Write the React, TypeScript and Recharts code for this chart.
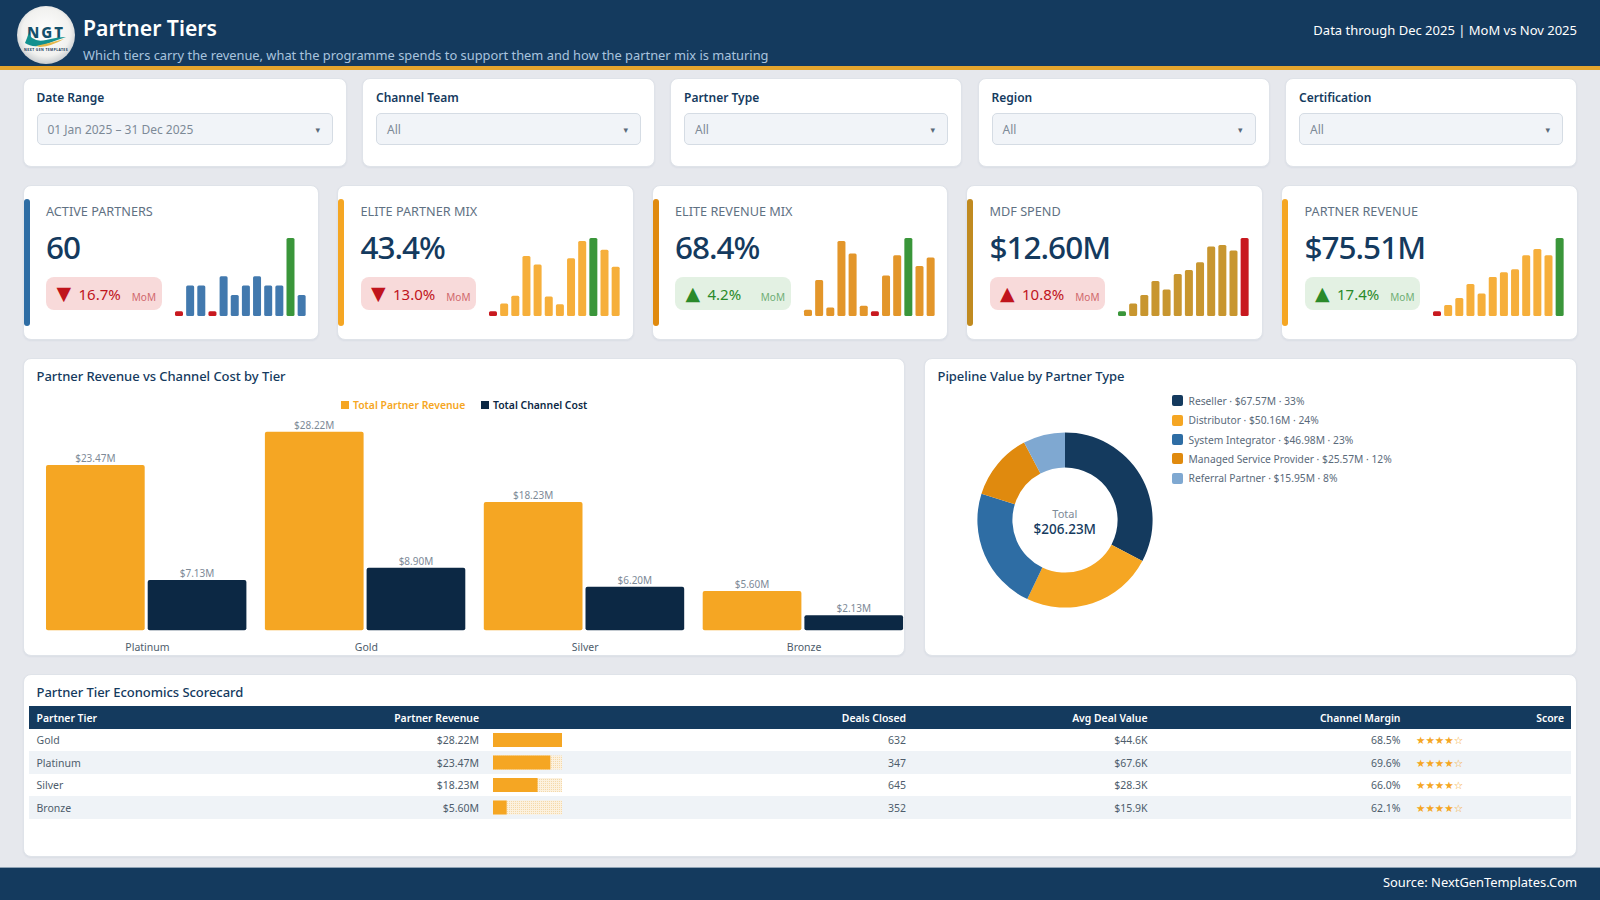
import React from "react";
import {
  BarChart,
  Bar,
  XAxis,
  YAxis,
  Cell,
  LabelList,
  PieChart,
  Pie,
} from "recharts";

const NAVY = "#143A5E";
const ORANGE = "#F5A623";
const GREY = "#7D8A97";
const FONT = "'Noto Sans', sans-serif";

// --- Filters ---
const filterLabels = ["Date Range", "Channel Team", "Partner Type", "Region", "Certification"];
const filterValues = ["01 Jan 2025 – 31 Dec 2025", "All", "All", "All", "All"];
const filterBoxes = [
  [23.5, 322.5],
  [363, 291],
  [671, 290],
  [978.5, 290],
  [1286, 290],
];

// --- KPI cards ---
const kpiTitles = ["ACTIVE PARTNERS", "ELITE PARTNER MIX", "ELITE REVENUE MIX", "MDF SPEND", "PARTNER REVENUE"];
const kpiValues = ["60", "43.4%", "68.4%", "$12.60M", "$75.51M"];
const kpiDeltas = ["16.7%", "13.0%", "4.2%", "10.8%", "17.4%"];
const kpiArrows = ["▼", "▼", "▲", "▲", "▲"];
const kpiGood = [false, false, true, false, true];
const kpiAccents = ["#2E6DA4", "#F5A623", "#E08A0E", "#C08A20", "#F5A623"];
const kpiBarFills = ["#4279AE", "#F6AF3B", "#E3962A", "#C8962F", "#F6AF3B"];
const kpiLefts = [23.5, 338, 652.5, 967, 1282];

// monthly bars, read as % of each card's tallest bar
const activePartnersBars = [6, 39, 39, 6, 51, 27, 39, 51, 39, 39, 100, 27];
const elitePartnerBars = [6, 16, 26, 77, 66, 25, 15, 74, 96, 100, 85, 63];
const eliteRevenueBars = [8, 46, 11, 96, 80, 13, 6, 52, 78, 100, 64, 75];
const mdfSpendBars = [6, 16, 27, 45, 34, 54, 59, 69, 89, 91, 84, 100];
const partnerRevenueBars = [6, 14, 23, 41, 29, 50, 56, 60, 78, 86, 78, 100];
const kpiBars = [activePartnersBars, elitePartnerBars, eliteRevenueBars, mdfSpendBars, partnerRevenueBars];
const months = ["Jan", "Feb", "Mar", "Apr", "May", "Jun", "Jul", "Aug", "Sep", "Oct", "Nov", "Dec"];

// --- Revenue vs cost ---
const barTiers = ["Platinum", "Gold", "Silver", "Bronze"];
const tierRevenue = [23.47, 28.22, 18.23, 5.6];
const tierCost = [7.13, 8.9, 6.2, 2.13];

// --- Pipeline donut ---
const pipelineTypes = ["Reseller", "Distributor", "System Integrator", "Managed Service Provider", "Referral Partner"];
const pipelineValues = [67.57, 50.16, 46.98, 25.57, 15.95];
const pipelinePct = ["33%", "24%", "23%", "12%", "8%"];
const pipelineColors = ["#143A5E", "#F5A623", "#2E6DA4", "#E08A0E", "#7FA8D1"];

// --- Scorecard ---
const scoreTiers = ["Gold", "Platinum", "Silver", "Bronze"];
const scoreRevenue = [28.22, 23.47, 18.23, 5.6];
const scoreDeals = [632, 347, 645, 352];
const scoreAvgDeal = ["$44.6K", "$67.6K", "$28.3K", "$15.9K"];
const scoreMargin = ["68.5%", "69.6%", "66.0%", "62.1%"];
const scoreStars = ["★★★★☆", "★★★★☆", "★★★★☆", "★★★★☆"];

const money = (v: number) => `$${v.toFixed(2)}M`;

// absolutely placed text, vertically centred on cy
function T({ x, right, cy, size, weight = 400, color = NAVY, font, spacing, children }: any) {
  const style: React.CSSProperties = {
    position: "absolute",
    top: cy - 15,
    height: 30,
    lineHeight: "30px",
    fontSize: size,
    fontWeight: weight,
    color,
    letterSpacing: spacing,
    whiteSpace: "nowrap",
    fontFamily: font || FONT,
  };
  if (right !== undefined) style.right = 1600 - right;
  else style.left = x;
  return <div style={style}>{children}</div>;
}

function Card({ left, top, width, height }: any) {
  return (
    <div
      style={{
        position: "absolute",
        left: left - 1,
        top: top - 1,
        width: width + 2,
        height: height + 2,
        boxSizing: "border-box",
        background: "#fff",
        border: "1px solid #DFE3E9",
        borderRadius: 8,
        boxShadow: "0 1px 2px rgba(20,58,94,0.06)",
      }}
    />
  );
}

function Logo() {
  return (
    <svg width={60} height={60} style={{ position: "absolute", left: 16, top: 5 }} viewBox="0 0 60 60">
      <defs>
        <radialGradient id="logoBg" cx="50%" cy="45%" r="55%">
          <stop offset="0%" stopColor="#FFFFFF" />
          <stop offset="75%" stopColor="#F1F1EF" />
          <stop offset="100%" stopColor="#C9CDD0" />
        </radialGradient>
      </defs>
      <circle cx={30} cy={30} r={29} fill="url(#logoBg)" />
      <text x={30} y={33} textAnchor="middle" fontSize={15} fontWeight={800} letterSpacing={2} fontFamily={FONT} fill="#14506B">
        NGT
      </text>
      <path d="M9 38 Q14 26 12 27 Q16 38 30 35 Q42 32 50 32 Q38 36 28 40 Q16 43 9 38Z" fill="#12908F" />
      <path d="M20 41 Q34 38 48 34 Q36 41 24 42Z" fill="#E5B74A" />
      <text x={30} y={46} textAnchor="middle" fontSize={3.4} fontWeight={700} letterSpacing={0.4} fontFamily={FONT} fill="#14385A">
        NEXT GEN TEMPLATES
      </text>
    </svg>
  );
}

function KpiCard({ i }: { i: number }) {
  const left = kpiLefts[i];
  const values = kpiBars[i];
  const data = values.map((v, k) => ({ month: months[k], v }));
  const max = Math.max(...values);
  const min = Math.min(...values);
  // MDF is a cost, so its peak is the red one
  const highColor = i === 3 ? "#C8191F" : "#3A963A";
  const lowColor = i === 3 ? "#3A963A" : "#C8191F";
  const good = kpiGood[i];
  const deltaColor = good ? "#2A8A2A" : "#C0141C";
  return (
    <>
      <Card left={left} top={186} width={294.5} height={153} />
      <div style={{ position: "absolute", left, top: 199, width: 6, height: 127, borderRadius: 3, background: kpiAccents[i] }} />
      <T x={left + 22.5} cy={210.5} size={12.7} color="#5F7183">{kpiTitles[i]}</T>
      <T x={left + 22.5} cy={247} size={31.5} weight={500} spacing={-1}>{kpiValues[i]}</T>
      <div
        style={{
          position: "absolute",
          left: left + 22.5,
          top: 277,
          width: 115.5,
          height: 33,
          borderRadius: 8,
          background: good ? "#E3F1E3" : "#F8DADA",
        }}
      />
      <T x={left + 33} cy={292.5} size={19} color={deltaColor} font="'DejaVu Sans', sans-serif">{kpiArrows[i]}</T>
      <T x={left + 55} cy={294} size={15} color={deltaColor}>{kpiDeltas[i]}</T>
      <T right={left + 132.5} cy={297} size={10} color={good ? "#6FAE74" : "#D0686C"}>MoM</T>
      <div style={{ position: "absolute", left: left + 149.2, top: 238.3 }}>
        <BarChart width={133.8} height={78} data={data} margin={{ top: 0, right: 0, bottom: 0, left: 0 }}>
          <XAxis dataKey="month" hide />
          <YAxis hide domain={[0, 100]} />
          <Bar dataKey="v" barSize={8} radius={1.5} isAnimationActive={false}>
            {values.map((v, k) => (
              <Cell key={k} fill={v === max ? highColor : v === min ? lowColor : kpiBarFills[i]} />
            ))}
          </Bar>
        </BarChart>
      </div>
    </>
  );
}

export default function App() {
  const tierData = barTiers.map((name, i) => ({ name, revenue: tierRevenue[i], cost: tierCost[i] }));
  const pipelineData = pipelineTypes.map((name, i) => ({ name, value: pipelineValues[i] }));
  const scoreData = scoreTiers.map((name, i) => ({ name, revenue: scoreRevenue[i] }));

  return (
    <div
      style={{
        position: "absolute",
        left: 0,
        top: 0,
        width: 1600,
        height: 900,
        overflow: "hidden",
        background: "#E6E8ED",
        fontFamily: FONT,
      }}
    >
      {/* Header */}
      <div style={{ position: "absolute", left: 0, top: 0, width: 1600, height: 66, background: NAVY }} />
      <div style={{ position: "absolute", left: 0, top: 66, width: 1600, height: 4, background: "#E5A52D" }} />
      <Logo />
      <T x={83} cy={27.5} size={21.2} weight={600} color="#fff">Partner Tiers</T>
      <T x={83} cy={54.5} size={12.85} color="#A9C4DE">
        Which tiers carry the revenue, what the programme spends to support them and how the partner mix is maturing
      </T>
      <T right={1577} cy={30} size={13} color="#fff">Data through Dec 2025 | MoM vs Nov 2025</T>

      {/* Filters */}
      {filterLabels.map((label, i) => {
        const [left, width] = filterBoxes[i];
        return (
          <React.Fragment key={label}>
            <Card left={left} top={79} width={width} height={87} />
            <T x={left + 13} cy={98} size={12} weight={600}>{label}</T>
            <div
              style={{
                position: "absolute",
                left: left + 13,
                top: 113,
                width: width - 26,
                height: 32,
                boxSizing: "border-box",
                background: "#F1F4F8",
                border: "1.5px solid #D5DCE4",
                borderRadius: 5,
              }}
            />
            <T x={left + 24} cy={129.5} size={12} color={GREY}>{filterValues[i]}</T>
            <T right={left + width - 26} cy={129.5} size={9} color="#5A6A7A" font="'DejaVu Sans', sans-serif">▾</T>
          </React.Fragment>
        );
      })}

      {/* KPI cards */}
      {kpiTitles.map((t, i) => (
        <KpiCard key={t} i={i} />
      ))}

      {/* Revenue vs cost */}
      <Card left={24} top={358.5} width={880} height={296.5} />
      <T x={36.5} cy={376} size={13} weight={500} spacing={-0.05}>Partner Revenue vs Channel Cost by Tier</T>
      <div style={{ position: "absolute", left: 341, top: 401, width: 8, height: 8, background: ORANGE }} />
      <T x={353} cy={405} size={10.4} weight={600} color={ORANGE}>Total Partner Revenue</T>
      <div style={{ position: "absolute", left: 481, top: 401, width: 8, height: 8, background: "#0C2844" }} />
      <T x={493} cy={405} size={10.4} weight={600} color="#0C2844">Total Channel Cost</T>
      <div style={{ position: "absolute", left: 36.7, top: 360 }}>
        <BarChart
          width={875.6}
          height={295}
          data={tierData}
          margin={{ top: 0, right: 0, bottom: 0, left: 0 }}
          barGap={3}
          style={{ overflow: "visible" }}
        >
          <XAxis
            dataKey="name"
            height={24.7}
            axisLine={false}
            tickLine={false}
            tickMargin={7}
            dx={1}
            tick={{ fill: "#4E5D6C", fontSize: 10.5 }}
          />
          <YAxis hide domain={[0, 38.4]} />
          <Bar dataKey="revenue" fill={ORANGE} barSize={98.7} radius={2} isAnimationActive={false}>
            <LabelList dataKey="revenue" position="top" offset={3} formatter={money} fill={GREY} fontSize={10} />
          </Bar>
          <Bar dataKey="cost" fill="#0C2844" barSize={98.7} radius={2} isAnimationActive={false}>
            <LabelList dataKey="cost" position="top" offset={3} formatter={money} fill={GREY} fontSize={10} />
          </Bar>
        </BarChart>
      </div>

      {/* Pipeline donut */}
      <Card left={924.5} top={358.5} width={651.5} height={296.5} />
      <T x={937.5} cy={376} size={13} weight={500} spacing={-0.05}>Pipeline Value by Partner Type</T>
      <div style={{ position: "absolute", left: 954.8, top: 410.3 }}>
        <PieChart width={220} height={220} margin={{ top: 0, right: 0, bottom: 0, left: 0 }}>
          <Pie
            data={pipelineData}
            dataKey="value"
            nameKey="name"
            cx={110}
            cy={110}
            innerRadius={52.6}
            outerRadius={87.6}
            startAngle={90}
            endAngle={-270}
            stroke="none"
            isAnimationActive={false}
          >
            {pipelineData.map((d, i) => (
              <Cell key={d.name} fill={pipelineColors[i]} />
            ))}
          </Pie>
        </PieChart>
      </div>
      <div style={{ position: "absolute", left: 1004.8, width: 120, top: 499, textAlign: "center", fontSize: 11, lineHeight: "30px", color: GREY }}>Total</div>
      <div style={{ position: "absolute", left: 1004.8, width: 120, top: 514, textAlign: "center", fontSize: 13.5, fontWeight: 500, lineHeight: "30px", color: NAVY }}>$206.23M</div>
      {pipelineTypes.map((name, i) => (
        <React.Fragment key={name}>
          <div style={{ position: "absolute", left: 1172.4, top: 395.2 + i * 19.4, width: 11, height: 11, borderRadius: 2, background: pipelineColors[i] }} />
          <T x={1188.5} cy={400.7 + i * 19.4} size={10.25} color="#5A6A7A">
            {`${name} · ${money(pipelineValues[i])} · ${pipelinePct[i]}`}
          </T>
        </React.Fragment>
      ))}

      {/* Scorecard */}
      <Card left={24} top={674.5} width={1552} height={181.5} />
      <T x={36.5} cy={692} size={13} weight={500} spacing={-0.05}>Partner Tier Economics Scorecard</T>
      <div style={{ position: "absolute", left: 29, top: 706, width: 1542, height: 22.7, background: NAVY }} />
      <T x={36.5} cy={717.5} size={10.4} weight={600} color="#fff">Partner Tier</T>
      <T right={479} cy={717.5} size={10.4} weight={600} color="#fff">Partner Revenue</T>
      <T right={906} cy={717.5} size={10.4} weight={600} color="#fff">Deals Closed</T>
      <T right={1147.5} cy={717.5} size={10.4} weight={600} color="#fff">Avg Deal Value</T>
      <T right={1400.5} cy={717.5} size={10.4} weight={600} color="#fff">Channel Margin</T>
      <T right={1564} cy={717.5} size={10.4} weight={600} color="#fff">Score</T>
      {scoreTiers.map((name, i) => {
        const cy = 740.2 + i * 22.5;
        return (
          <React.Fragment key={name}>
            {i % 2 === 1 && (
              <div style={{ position: "absolute", left: 29, top: 728.7 + i * 22.5, width: 1542, height: 22.5, background: "#EFF3F7" }} />
            )}
            <T x={36.5} cy={cy} size={10.5} color="#4E5D6C">{name}</T>
            <T right={479} cy={cy} size={10.5} color="#4E5D6C">{money(scoreRevenue[i])}</T>
            <T right={906} cy={cy} size={10.5} color="#4E5D6C">{scoreDeals[i]}</T>
            <T right={1147.5} cy={cy} size={10.5} color="#4E5D6C">{scoreAvgDeal[i]}</T>
            <T right={1400.5} cy={cy} size={10.5} color="#4E5D6C">{scoreMargin[i]}</T>
            <T x={1416} cy={cy} size={10.5} color={ORANGE} font="'DejaVu Sans', sans-serif">{scoreStars[i]}</T>
          </React.Fragment>
        );
      })}
      <div style={{ position: "absolute", left: 493.4, top: 729 }}>
        <BarChart width={69} height={90} layout="vertical" data={scoreData} margin={{ top: 0, right: 0, bottom: 0, left: 0 }}>
          <defs>
            <pattern id="trackDots" width={2} height={2} patternUnits="userSpaceOnUse">
              <rect width={2} height={2} fill="#FCF1DE" />
              <rect width={1} height={1} fill="#F4D9AA" />
            </pattern>
          </defs>
          <XAxis type="number" hide domain={[0, 28.22]} />
          <YAxis type="category" dataKey="name" hide />
          <Bar dataKey="revenue" fill={ORANGE} barSize={14} background={{ fill: "url(#trackDots)" }} isAnimationActive={false} />
        </BarChart>
      </div>

      {/* Footer */}
      <div style={{ position: "absolute", left: 0, top: 867, width: 1600, height: 33, background: NAVY, borderTop: "1px solid #8FA3B5", boxSizing: "border-box" }} />
      <T right={1577} cy={881.5} size={12.9} color="#fff">Source: NextGenTemplates.Com</T>
    </div>
  );
}
